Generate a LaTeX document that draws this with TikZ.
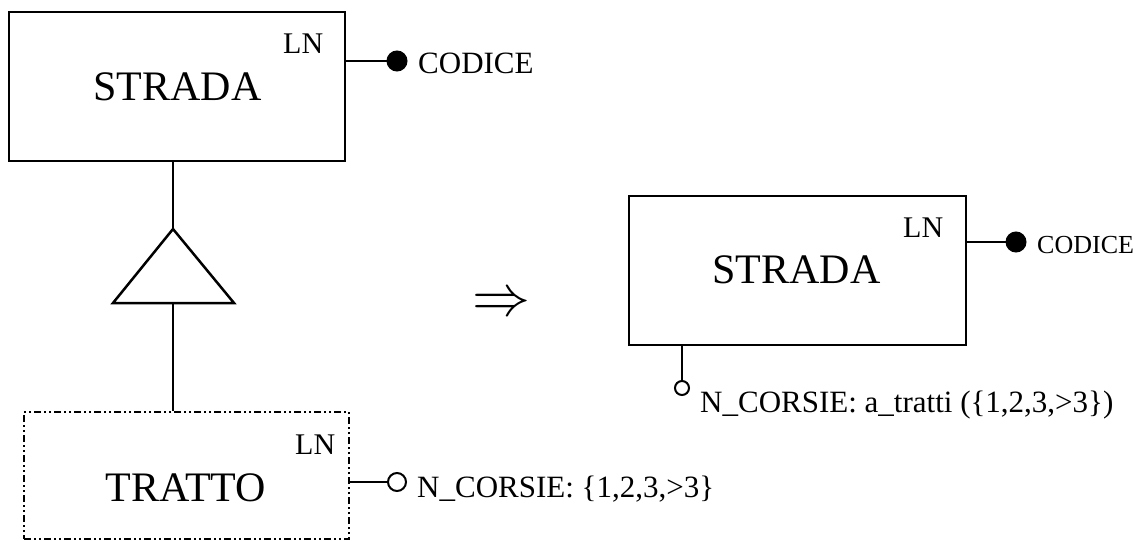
\RequirePackage{fix-cm}
\documentclass[tikz,border=0pt]{standalone}
\usepackage{fontspec}
\setmainfont{Liberation Serif}
\usetikzlibrary{positioning}

\begin{document}
\begin{tikzpicture}[x=1pt,y=-1pt,
  entity/.style={draw,line width=2pt,inner sep=0pt},
  dashdotdot/.style={dash pattern=on 7pt off 3pt on 2pt off 3pt on 2pt off 3pt},
  entname/.style={font=\fontsize{42}{48}\selectfont,anchor=base,inner sep=0pt},
  lnlbl/.style={font=\fontsize{30}{36}\selectfont,anchor=base west,inner sep=0pt},
  attrlbl/.style={font=\fontsize{31}{36}\selectfont,anchor=base west,inner sep=0pt},
  keyattr/.style={circle,fill=black,draw,line width=1pt,minimum size=20pt,inner sep=0pt},
  optattr/.style={circle,fill=white,draw,line width=2pt,minimum size=18pt,inner sep=0pt},
  conn/.style={line width=2pt},
  isa/.style={line width=2.5pt}]
\useasboundingbox (0,0) rectangle (1144,541);

% STRADA before the change
\node[entity,minimum width=336pt,minimum height=149pt] (strada) at (177,86.5) {};
\node[entname] (strada-t) at (177.5,100) {STRADA};
\node[lnlbl] (strada-ln) at (283,53) {LN};
\node[keyattr] (codice) at (397,61) {};
\node[attrlbl] (codice-t) at (418,73) {CODICE};
\draw[conn] (strada.east |- codice) -- (codice);

% generalization
\coordinate (isa-top) at (173,229);
\coordinate (isa-left) at (113,303);
\coordinate (isa-right) at (234,303);
\coordinate (isa-base) at (173,303);
\draw[isa] (isa-top) -- (isa-left) -- (isa-right) -- cycle;
\draw[isa] (strada.south -| isa-top) -- (isa-top);

% TRATTO
\node[entity,dashdotdot,minimum width=325pt,minimum height=127pt] (tratto) at (186.5,475.5) {};
\node[entname] (tratto-t) at (186,501) {TRATTO};
\node[lnlbl] (tratto-ln) at (295,454) {LN};
\draw[isa] (isa-base) -- (isa-base |- tratto.north);
\node[optattr] (ncorsie) at (397,482) {};
\node[attrlbl] (ncorsie-t) at (417,497) {N\_CORSIE: \{1,2,3,>3\}};
\draw[conn] (tratto.east |- ncorsie) -- (ncorsie);

% arrow
\node[inner sep=0pt,font=\fontsize{58}{60}\selectfont] (becomes) at (501,305) {$\Rightarrow$};

% STRADA after the change
\node[entity,minimum width=337pt,minimum height=149pt] (strada2) at (797.5,270.5) {};
\node[entname] (strada2-t) at (796.5,283) {STRADA};
\node[lnlbl] (strada2-ln) at (903,237) {LN};
\node[keyattr] (codice2) at (1016,242) {};
\node[attrlbl,font=\fontsize{26}{30}\selectfont] (codice2-t) at (1037,253) {CODICE};
\draw[conn] (strada2.east |- codice2) -- (codice2);
\node[optattr,minimum size=14pt] (ncorsie2) at (682,388) {};
\node[attrlbl] (ncorsie2-t) at (700,412) {N\_CORSIE: a\_tratti (\{1,2,3,>3\})};
\draw[conn] (ncorsie2 |- strada2.south) -- (ncorsie2);
\end{tikzpicture}
\end{document}
